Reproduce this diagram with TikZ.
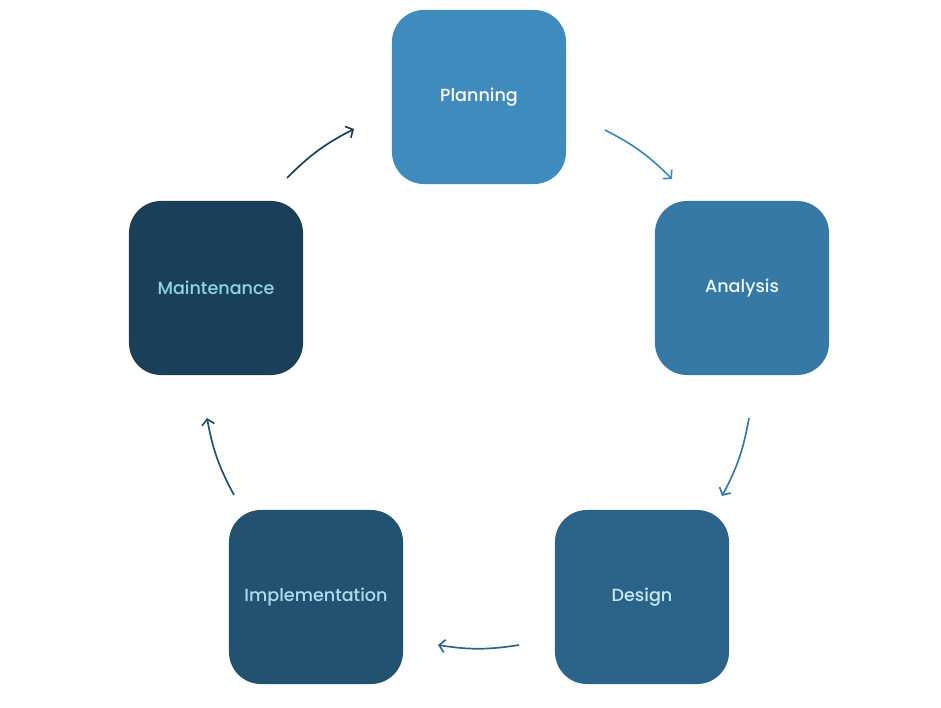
\documentclass[tikz,border=0pt]{standalone}
\usepackage{fontspec}
\setmainfont{Poppins}[UprightFont={* Medium}]
\usetikzlibrary{arrows.meta}

\definecolor{planC}{HTML}{3F8BBD}
\definecolor{anaC}{HTML}{3779A5}
\definecolor{desC}{HTML}{2C6489}
\definecolor{impC}{HTML}{22526F}
\definecolor{maiC}{HTML}{1A3F58}
\definecolor{anaT}{HTML}{EAF6FB}
\definecolor{desT}{HTML}{C6E8F6}
\definecolor{impT}{HTML}{A9DDF0}
\definecolor{maiT}{HTML}{8FD4EC}

\tikzset{
  stage/.style={rounded corners=0.8cm, minimum size=4.35cm, inner sep=0pt, font=\fontsize{12.5}{15}\selectfont},
  cyc/.style={line width=1.2pt, -{Straight Barb[length=4pt,width=9pt]}, bend left=9}
}

\begin{document}
\begin{tikzpicture}[x=0.025cm,y=-0.025cm]
\useasboundingbox (0,0) rectangle (941,708);

\node[stage, fill=planC, text=white] (v1) at (479,97) {Planning};
\node[stage, fill=anaC, text=anaT] (v2) at (742,288) {Analysis};
\node[stage, fill=desC, text=desT] (v3) at (642,597) {Design};
\node[stage, fill=impC, text=impT] (v4) at (316,597) {Implementation};
\node[stage, fill=maiC, text=maiT] (v5) at (216,288) {Maintenance};

\coordinate (s1) at (287,178);
\coordinate (e1) at (354,129);
\coordinate (s2) at (605,130);
\coordinate (e2) at (672,179);
\coordinate (s3) at (749,418);
\coordinate (e3) at (722,496);
\coordinate (s4) at (519,645);
\coordinate (e4) at (438,645);
\coordinate (s5) at (234,495);
\coordinate (e5) at (207,418);

\draw  (s1) edge[cyc, maiC] (e1);
\draw  (s2) edge[cyc, planC] (e2);
\draw  (s3) edge[cyc, anaC] (e3);
\draw  (s4) edge[cyc, desC] (e4);
\draw  (s5) edge[cyc, impC] (e5);
\end{tikzpicture}
\end{document}
